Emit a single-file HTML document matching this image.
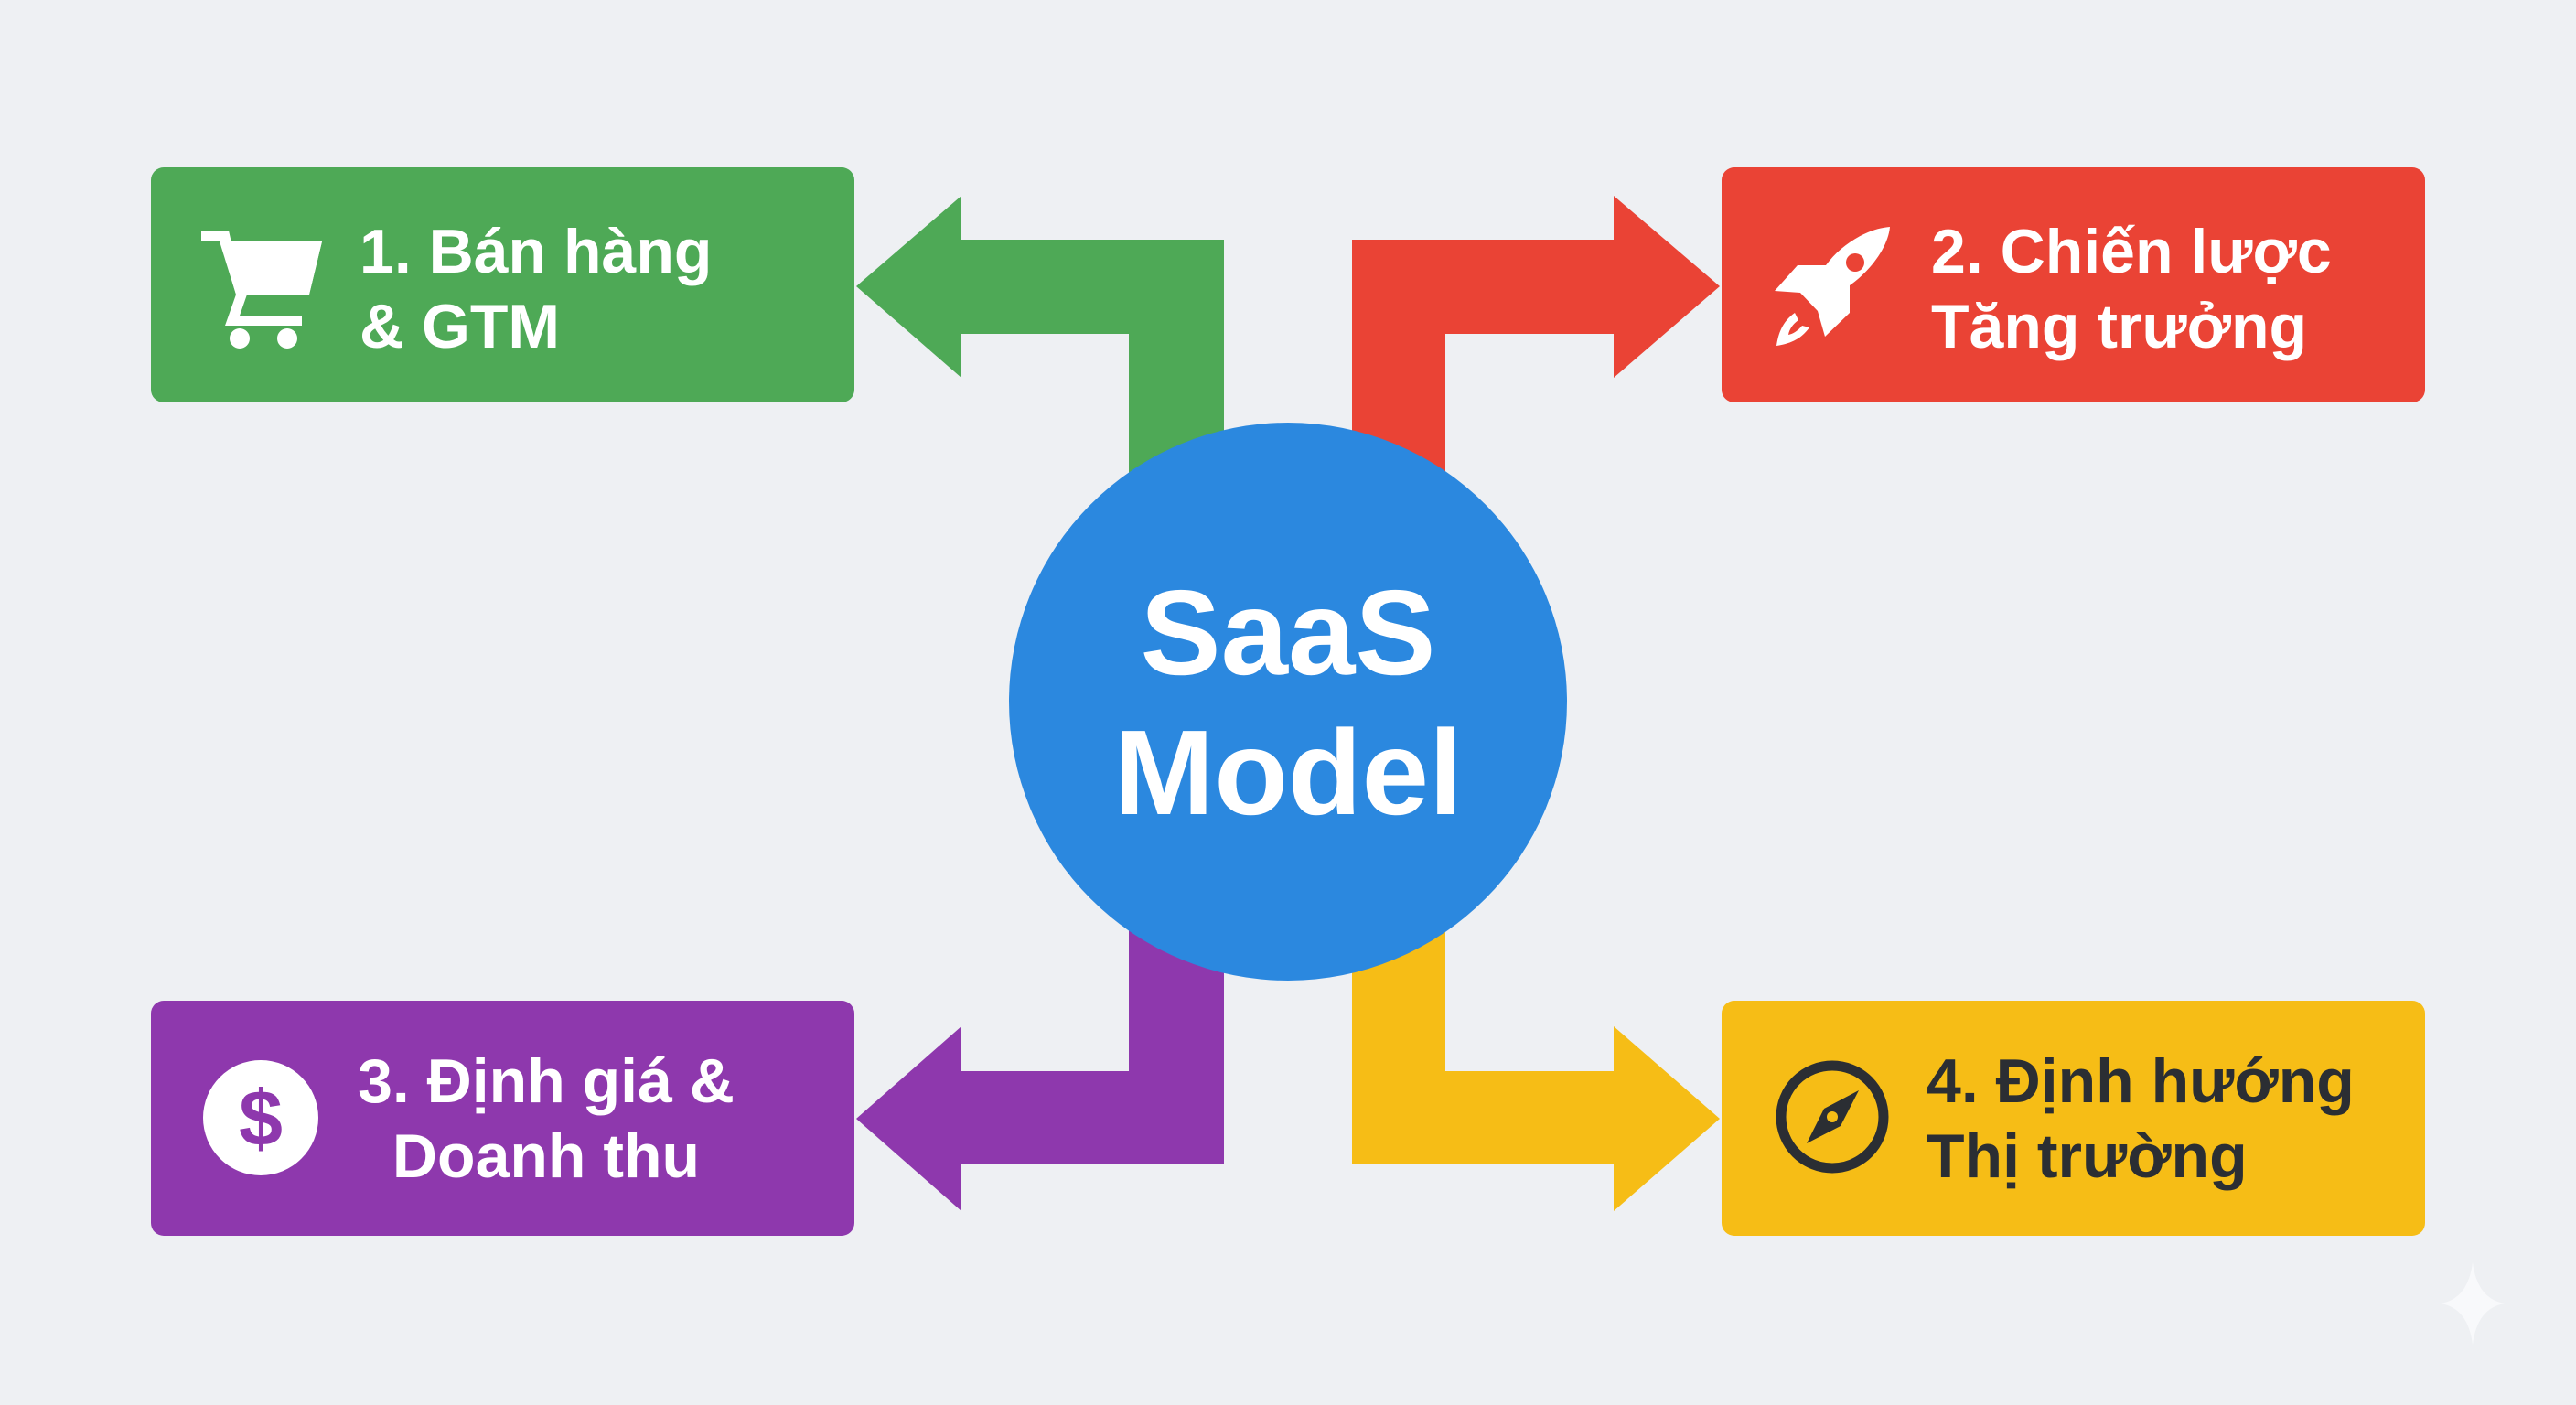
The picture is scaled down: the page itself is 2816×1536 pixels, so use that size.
<!DOCTYPE html>
<html><head><meta charset="utf-8"><style>
html,body{margin:0;padding:0;background:#eef0f3;}
svg{display:block;}
text{font-family:"Liberation Sans",sans-serif;font-weight:bold;}
</style></head><body>
<svg width="2816" height="1536" viewBox="0 0 2816 1536" xmlns="http://www.w3.org/2000/svg">
<rect width="2816" height="1536" fill="#eef0f3"/>
<!-- connectors -->
<polygon points="1338,560 1338,262 1051,262 1051,214 936,313 1051,413 1051,365 1234,365 1234,560" fill="#4ea956"/>
<polygon points="1478,560 1478,262 1764,262 1764,214 1880,313 1764,413 1764,365 1580,365 1580,560" fill="#ea4335"/>
<polygon points="1338,980 1338,1273 1051,1273 1051,1324 936,1223 1051,1122 1051,1171 1234,1171 1234,980" fill="#8e38ad"/>
<polygon points="1478,980 1478,1273 1764,1273 1764,1324 1880,1223 1764,1122 1764,1171 1580,1171 1580,980" fill="#f6bd16"/>
<!-- boxes -->
<rect x="165" y="183" width="769" height="257" rx="14" fill="#4ea956"/>
<rect x="1882" y="183" width="769" height="257" rx="14" fill="#ea4335"/>
<rect x="165" y="1094" width="769" height="257" rx="14" fill="#8e38ad"/>
<rect x="1882" y="1094" width="769" height="257" rx="14" fill="#f6bd16"/>
<!-- circle -->
<circle cx="1408" cy="767" r="305" fill="#2b88df"/>
<text x="1408" y="737" font-size="132" fill="#fff" text-anchor="middle">SaaS</text>
<text x="1408" y="890" font-size="132" fill="#fff" text-anchor="middle">Model</text>
<!-- cart icon -->
<g fill="#fff">
<rect x="220" y="252" width="26" height="12"/>
<polygon points="238,252 250,252 262,305 325,305 337,264 352,264 338,322 258,322"/>
<polygon points="240,264 352,264 338,322 258,322" />
<polygon points="258,322 270,322 262,345 330,345 330,356 246,356"/>
<circle cx="262" cy="370" r="11"/><circle cx="314" cy="370" r="11"/>
</g>
<!-- rocket icon -->
<g fill="#fff">
<path d="M2066,248 C2040,250 2012,268 1996,290 L1965,290 L1940,318 L1968,320 L1987,340 L1995,368 L2022,342 L2022,312 C2045,296 2064,270 2066,248 Z"/>
<circle cx="2028" cy="287" r="10" fill="#ea4335"/>
<path d="M1962,342 C1948,352 1944,365 1942,378 C1955,376 1968,372 1978,358 L1970,356 C1965,362 1960,365 1955,366 C1956,360 1960,354 1966,350 Z"/>
</g>
<!-- dollar icon -->
<circle cx="285" cy="1222" r="63" fill="#fff"/>
<text x="285" y="1252" font-size="86" fill="#8e38ad" text-anchor="middle">$</text>
<!-- compass icon -->
<circle cx="2003" cy="1221" r="56" fill="none" stroke="#2b2e33" stroke-width="11"/>
<polygon points="2032,1192 2012,1231 1975,1250 1994,1212" fill="#2b2e33"/>
<circle cx="2003" cy="1221" r="6" fill="#f6bd16"/>
<!-- labels -->
<text font-size="68" fill="#fff"><tspan x="393" y="298">1. Bán hàng</tspan><tspan x="393" y="380">&amp; GTM</tspan></text>
<text font-size="68" fill="#fff"><tspan x="2111" y="298">2. Chiến lược</tspan><tspan x="2111" y="380">Tăng trưởng</tspan></text>
<text font-size="68" fill="#fff" text-anchor="middle"><tspan x="597" y="1205">3. Định giá &amp;</tspan><tspan x="597" y="1287">Doanh thu</tspan></text>
<text font-size="68" fill="#2b2e33"><tspan x="2106" y="1205">4. Định hướng</tspan><tspan x="2106" y="1287">Thị trường</tspan></text>
<!-- sparkle -->
<path d="M2703,1380 Q2708,1420 2738,1425 Q2708,1430 2703,1470 Q2698,1430 2668,1425 Q2698,1420 2703,1380 Z" fill="#f8f9fb"/>
</svg>
</body></html>
